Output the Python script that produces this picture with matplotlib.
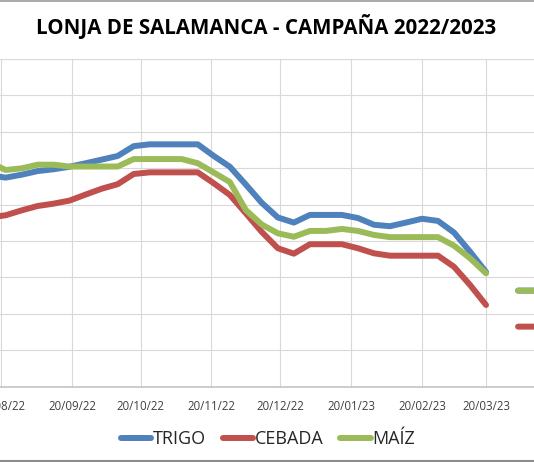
import matplotlib
matplotlib.use("Agg")
import matplotlib.pyplot as plt
import matplotlib.dates as mdates
from matplotlib import font_manager
from matplotlib.lines import Line2D
import numpy as np
import datetime as dt

# ---------------- data ----------------
fechas = ["2022-08-15", "2022-08-22", "2022-08-29", "2022-09-05", "2022-09-12", "2022-09-19",
          "2022-09-26", "2022-10-03", "2022-10-10", "2022-10-17", "2022-10-24", "2022-10-31",
          "2022-11-07", "2022-11-14", "2022-11-21", "2022-11-28", "2022-12-05", "2022-12-12",
          "2022-12-19", "2022-12-26", "2023-01-02", "2023-01-09", "2023-01-16", "2023-01-23",
          "2023-01-30", "2023-02-06", "2023-02-13", "2023-02-20", "2023-02-27", "2023-03-06",
          "2023-03-13", "2023-03-20", "2023-03-27", "2023-04-03", "2023-04-10", "2023-04-17"]
nan = np.nan
trigo = [316.1, 314.8, 316.4, 318.4, 319.4, 320.8, 322.7, 324.7, 326.7, 332.1, 333.1, 333.1,
         333.1, 333.1, 326.7, 320.8, 311.0, 300.9, 292.9, 290.1, 294.3, 294.3, 294.3, 292.6,
         288.9, 288.1, 290.1, 292.2, 291.0, 284.6, 274.1, 262.9, nan, 252.7, 252.7, 252.7]
cebada = [292.9, 294.1, 296.8, 299.2, 300.5, 302.2, 305.5, 308.7, 311.2, 316.8, 317.7, 317.7,
          317.7, 317.7, 311.7, 305.3, 295.2, 284.9, 276.0, 273.0, 278.2, 278.2, 278.2, 276.0,
          273.2, 271.9, 271.9, 271.9, 271.9, 265.8, 255.8, 244.8, nan, 232.9, 232.9, 232.9]
maiz = [323.3, 319.0, 319.9, 321.9, 321.9, 320.9, 320.9, 320.9, 320.9, 325.0, 325.0, 325.0,
        325.0, 322.7, 317.6, 312.4, 297.0, 289.0, 284.2, 282.3, 285.5, 285.5, 286.6, 285.5,
        283.3, 282.1, 282.1, 282.1, 282.1, 277.4, 270.5, 262.2, nan, 252.7, 252.7, 252.7]
series = ["TRIGO", "CEBADA", "MAÍZ"]
colores = ["#4F81BD", "#C0504D", "#9BBB59"]
titulo = "LONJA DE SALAMANCA - CAMPAÑA 2022/2023"
y_min, y_max, y_step = 200, 380, 20

# ---------------- fonts ----------------
names = {f.name for f in font_manager.fontManager.ttflist}
fam = "Liberation Sans Narrow" if "Liberation Sans Narrow" in names else "Open Sans"
plt.rcParams["font.family"] = [fam, "DejaVu Sans"]

W, H = 534, 462
fig = plt.figure(figsize=(W / 100, H / 100), dpi=100)

# plot area: extends beyond the figure on both sides (cropped chart)
ax_left_px, ax_right_px = -106.8, 640.8
top_px, bot_px = 59, 386.5
ax = fig.add_axes([ax_left_px / W, 1 - bot_px / H,
                   (ax_right_px - ax_left_px) / W, (bot_px - top_px) / H])

x = np.array([np.datetime64(f) for f in fechas]).astype("datetime64[D]").astype(object)
date0 = dt.datetime(2022, 8, 20)
px_per_day = 2.288
xmin = date0 + dt.timedelta(days=(ax_left_px - 1) / px_per_day)
xmax = date0 + dt.timedelta(days=(ax_right_px - 1) / px_per_day)

for name, vals, c in zip(series, [trigo, cebada, maiz], colores):
    ax.plot(x, vals, color=c, lw=4.3, solid_capstyle="round", solid_joinstyle="round",
            label=name, zorder=3)

ax.set_xlim(xmin, xmax)
ax.set_ylim(y_min, y_max)
ax.set_yticks(np.arange(y_min, y_max + 1, y_step))
ax.yaxis.set_ticklabels([])
ax.xaxis.set_major_locator(mdates.MonthLocator(bymonthday=20))
ax.xaxis.set_major_formatter(mdates.DateFormatter("%d/%m/%y"))
ax.tick_params(axis="both", length=0)
ax.tick_params(axis="x", pad=10, labelsize=8.3, labelcolor="#404040")
ax.grid(True, color="#d9d9d9", lw=0.8, zorder=0)
for s in ["top", "left", "right"]:
    ax.spines[s].set_visible(False)
ax.spines["bottom"].set_color("#bfbfbf")
ax.spines["bottom"].set_linewidth(1.1)

fig.text(266.5 / W, 1 - 26.4 / H, titulo, ha="center", va="center",
         fontsize=14.8, fontweight="bold", color="black")

handles = [Line2D([0], [0], color=c, lw=4.3, solid_capstyle="round") for c in colores]
fig.legend(handles, series, loc="center", bbox_to_anchor=(268 / W, 1 - 439 / H),
           ncol=3, frameon=False, fontsize=13, handlelength=1.7, handletextpad=0.1,
           columnspacing=0.9, labelcolor="#262626")

# chart-area border lines (top and bottom)
fig.add_artist(Line2D([0, 1], [1 - 0.5 / H, 1 - 0.5 / H], transform=fig.transFigure,
                      color="#9a9a9a", lw=1.2))
fig.add_artist(Line2D([0, 1], [1.2 / H, 1.2 / H], transform=fig.transFigure,
                      color="#8c8c8c", lw=1.5))

fig.savefig("out.png", dpi=100)
